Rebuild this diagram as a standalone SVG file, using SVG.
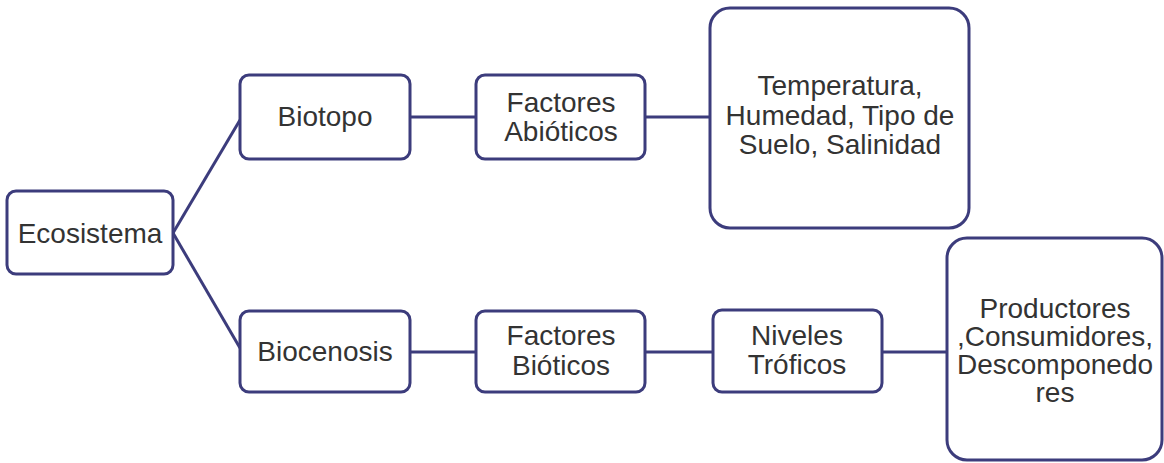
<svg xmlns="http://www.w3.org/2000/svg" width="1164" height="463" viewBox="0 0 1164 463">
<style>
.box{fill:#ffffff;stroke:#3c3c7c;stroke-width:3}
.link{stroke:#3c3c7c;stroke-width:3;fill:none}
text{font-family:"Liberation Sans",Arial,sans-serif;font-size:28px;fill:#333333;text-anchor:middle}
</style>
<rect width="1164" height="463" fill="#ffffff"/>
<g id="connectors">
<line class="link" x1="173" y1="233" x2="240" y2="120"/>
<line class="link" x1="173" y1="233" x2="240" y2="348"/>
<line class="link" x1="410" y1="117" x2="476" y2="117"/>
<line class="link" x1="645" y1="117" x2="710" y2="117"/>
<line class="link" x1="410" y1="352" x2="476" y2="352"/>
<line class="link" x1="645" y1="352" x2="713" y2="352"/>
<line class="link" x1="882" y1="352" x2="947" y2="352"/>
</g>
<g id="ecosistema">
<rect class="box" x="7" y="191" width="166" height="83" rx="9"/>
<text x="90" y="243">Ecosistema</text>
</g>
<g id="biotopo">
<rect class="box" x="240" y="75" width="170" height="84" rx="9"/>
<text x="325" y="126">Biotopo</text>
</g>
<g id="factores-abioticos">
<rect class="box" x="476" y="75" width="169" height="84" rx="9"/>
<text x="561" y="112">Factores</text>
<text x="561" y="141">Abióticos</text>
</g>
<g id="temperatura">
<rect class="box" x="710" y="8" width="259" height="220" rx="20"/>
<text x="840" y="95">Temperatura,</text>
<text x="840" y="125">Humedad, Tipo de</text>
<text x="840" y="154">Suelo, Salinidad</text>
</g>
<g id="biocenosis">
<rect class="box" x="240" y="311" width="170" height="81" rx="9"/>
<text x="325" y="361">Biocenosis</text>
</g>
<g id="factores-bioticos">
<rect class="box" x="476" y="311" width="169" height="81" rx="9"/>
<text x="561" y="345">Factores</text>
<text x="561" y="375">Bióticos</text>
</g>
<g id="niveles-troficos">
<rect class="box" x="713" y="310" width="169" height="82" rx="9"/>
<text x="797" y="345">Niveles</text>
<text x="797" y="374">Tróficos</text>
</g>
<g id="productores">
<rect class="box" x="947" y="238" width="215" height="222" rx="20"/>
<text x="1055" y="318">Productores</text>
<text x="1055" y="346">,Consumidores,</text>
<text x="1055" y="374">Descomponedo</text>
<text x="1055" y="402">res</text>
</g>
</svg>
